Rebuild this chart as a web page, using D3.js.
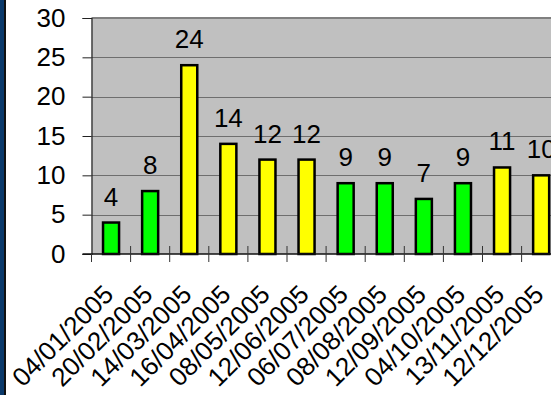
<!DOCTYPE html>
<html>
<head>
<meta charset="utf-8">
<script src="https://cdn.jsdelivr.net/npm/d3@7"></script>
<style>
  html, body { margin: 0; padding: 0; background: #ffffff; }
  svg { display: block; font-family: Arial, "Liberation Sans", sans-serif; }
</style>
</head>
<body>
<svg id="chart" width="551" height="395"></svg>
<script>
// Visit dates and counts
const dates = ["04/01/2005", "20/02/2005", "14/03/2005", "16/04/2005", "08/05/2005", "12/06/2005",
               "06/07/2005", "08/08/2005", "12/09/2005", "04/10/2005", "13/11/2005", "12/12/2005"];
const counts = [4, 8, 24, 14, 12, 12, 9, 9, 7, 9, 11, 10];
// Bar colour group per date: "g" green, "y" yellow
const groups = ["g", "g", "y", "y", "y", "y", "g", "g", "g", "g", "y", "y"];
const yTicks = [0, 5, 10, 15, 20, 25, 30];

const palette = { g: "#00ff00", y: "#ffff00" };
const FONT = 26;

const svg = d3.select("#chart");
const W = 551, H = 395;

// side band on the left
svg.append("rect").attr("x", 0).attr("y", 0).attr("width", 4).attr("height", H).attr("fill", "#0b3a6b");
svg.append("rect").attr("x", 4).attr("y", 0).attr("width", 2).attr("height", H).attr("fill", "#111");

const plotLeft = 91.5, plotTop = 18, plotBottom = 254;
const step = 39.1;
const plotRight = plotLeft + step * dates.length;

const x = d3.scaleBand()
  .domain(dates)
  .range([plotLeft, plotRight])
  .paddingInner(0.59)
  .paddingOuter(0.295);

const y = d3.scaleLinear().domain([0, 30]).range([plotBottom, plotTop]);

// plot background
svg.append("rect")
  .attr("x", plotLeft).attr("y", plotTop)
  .attr("width", plotRight - plotLeft).attr("height", plotBottom - plotTop)
  .attr("fill", "#c0c0c0");

// horizontal gridlines
svg.append("g")
  .selectAll("line")
  .data(yTicks.filter(t => t > 0 && t < 30))
  .join("line")
  .attr("x1", plotLeft).attr("x2", plotRight)
  .attr("y1", d => Math.round(y(d)) + 0.5).attr("y2", d => Math.round(y(d)) + 0.5)
  .attr("stroke", "#6e6e6e").attr("stroke-width", 1);

// plot border top
svg.append("line")
  .attr("x1", plotLeft).attr("x2", plotRight)
  .attr("y1", plotTop).attr("y2", plotTop)
  .attr("stroke", "#808080").attr("stroke-width", 2);

// y axis
const yAxis = d3.axisLeft(y).tickValues(yTicks).tickSize(9).tickPadding(17);
const gy = svg.append("g").attr("transform", `translate(${plotLeft},0)`).call(yAxis);
gy.select(".domain").attr("stroke", "#222").attr("stroke-width", 1.2);
gy.selectAll(".tick line").attr("stroke", "#222");
gy.selectAll(".tick text")
  .attr("font-size", FONT).attr("fill", "#000")
  .attr("font-family", "Arial, 'Liberation Sans', sans-serif");

// bars
svg.append("g")
  .selectAll("rect")
  .data(dates)
  .join("rect")
  .attr("x", d => x(d))
  .attr("y", (d, i) => y(counts[i]))
  .attr("width", x.bandwidth())
  .attr("height", (d, i) => plotBottom - y(counts[i]))
  .attr("fill", (d, i) => palette[groups[i]])
  .attr("stroke", "#000")
  .attr("stroke-width", 2.5);

// category axis with cross tick marks between categories
const bx = svg.append("g");
bx.append("line")
  .attr("x1", plotLeft - 9).attr("x2", plotRight)
  .attr("y1", plotBottom).attr("y2", plotBottom)
  .attr("stroke", "#111").attr("stroke-width", 1.5);
const boundaries = d3.range(dates.length + 1).map(i => plotLeft + i * x.step());
bx.selectAll("line.tk")
  .data(boundaries)
  .join("line")
  .attr("class", "tk")
  .attr("x1", d => d).attr("x2", d => d)
  .attr("y1", (d, i) => i === 0 ? plotBottom : plotBottom - 8)
  .attr("y2", plotBottom + 8)
  .attr("stroke", "#333").attr("stroke-width", 1);

// rotated date labels
bx.selectAll("text")
  .data(dates)
  .join("text")
  .attr("transform", d => `translate(${x(d) + x.bandwidth() / 2 + 4},${plotBottom + 42}) rotate(-45)`)
  .attr("text-anchor", "end")
  .attr("font-size", FONT)
  .attr("fill", "#000")
  .text(d => d);

// value labels
svg.append("g")
  .selectAll("text")
  .data(dates)
  .join("text")
  .attr("x", d => x(d) + x.bandwidth() / 2)
  .attr("y", (d, i) => y(counts[i]) - 17)
  .attr("text-anchor", "middle")
  .attr("font-size", FONT)
  .attr("fill", "#000")
  .text((d, i) => counts[i]);
</script>
</body>
</html>
